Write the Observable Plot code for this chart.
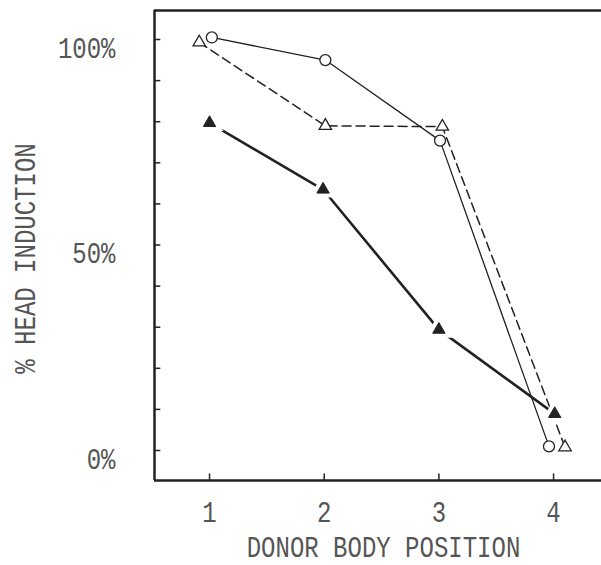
<!DOCTYPE html>
<html>
<head>
<meta charset="utf-8">
<script src="https://cdn.jsdelivr.net/npm/d3@7"></script>
<script src="https://cdn.jsdelivr.net/npm/@observablehq/plot@0.6"></script>
<style>
  html, body { margin: 0; padding: 0; background: #fff; }
</style>
</head>
<body>
<div id="chart"></div>
<script>
// ---- data ----
const xTicks = [1, 2, 3, 4];
const yLabelTicks = [0, 50, 100];
const yTickMarks = [0, 10, 20, 30, 40, 50, 60, 70, 80, 90, 100];

// open circles, thin solid line
const circleX = [1.02, 2.01, 3.01, 3.96];
const circleY = [100.5, 95.0, 75.4, 1.0];
// open triangles, dashed line
const openTriX = [0.91, 2.01, 3.03, 4.10];
const openTriY = [99.3, 79.0, 78.8, 0.8];
// filled triangles, thick solid line
const filledTriX = [1.0, 1.99, 3.0, 4.01];
const filledTriY = [79.7, 63.5, 29.4, 8.9];

const xTitle = "DONOR BODY POSITION";
const yTitle = "% HEAD INDUCTION";

const toRows = (xs, ys) => xs.map((x, i) => ({x, y: ys[i]}));
const circles = toRows(circleX, circleY);
const openTris = toRows(openTriX, openTriY);
const filledTris = toRows(filledTriX, filledTriY);

const xDomain = [0.52, 4.418];
const yDomain = [-7.3, 107.06];
const ink = "#222";
const textInk = "#555";

const chart = Plot.plot({
  width: 601,
  height: 565,
  marginLeft: 154,
  marginRight: 0,
  marginTop: 10,
  marginBottom: 85,
  style: {fontFamily: "'Liberation Mono', 'DejaVu Sans Mono', monospace", fontSize: "24px", background: "#fff", color: textInk},
  x: {domain: xDomain, label: null},
  y: {domain: yDomain, label: null},
  marks: [
    // frame lines
    Plot.ruleX([xDomain[0]], {stroke: ink, strokeWidth: 2.5}),
    Plot.ruleY([yDomain[0]], {stroke: ink, strokeWidth: 2.5}),
    Plot.ruleY([yDomain[1]], {stroke: ink, strokeWidth: 2.5}),
    // inward tick marks
    Plot.ruleY(yTickMarks, {y: d => d, x1: xDomain[0], x2: xDomain[0] + 0.055, stroke: ink, strokeWidth: 1.5}),
    Plot.ruleX(xTicks, {x: d => d, y1: yDomain[0], y2: yDomain[0] + 1.6, stroke: ink, strokeWidth: 1.5}),
    // axis labels
    Plot.axisY(yLabelTicks, {tickSize: 0, tickPadding: 39, dy: 9, tickFormat: d => d + "%", fill: textInk, fontSize: 24, label: null}),
    Plot.axisX(xTicks, {tickSize: 0, tickPadding: 21, tickFormat: d => String(d), fill: textInk, fontSize: 24, label: null}),
    // titles
    Plot.text([xTitle], {frameAnchor: "bottom", textAnchor: "middle", lineAnchor: "middle", dx: 5.5, dy: 67, fill: textInk, fontSize: 24}),
    Plot.text([yTitle], {frameAnchor: "left", textAnchor: "middle", lineAnchor: "middle", rotate: -90, dx: -129, dy: 13, fill: textInk, fontSize: 24}),
    // lines
    Plot.line(circles, {x: "x", y: "y", stroke: ink, strokeWidth: 1.3}),
    Plot.line(openTris, {x: "x", y: "y", stroke: ink, strokeWidth: 1.5, strokeDasharray: "9,5"}),
    Plot.line(filledTris, {x: "x", y: "y", stroke: ink, strokeWidth: 2.6}),
    // white halos around filled triangles
    Plot.dot(filledTris, {x: "x", y: "y", symbol: "triangle", r: 6.5, fill: "#fff", stroke: "#fff", strokeWidth: 6}),
    // markers
    Plot.dot(circles, {x: "x", y: "y", symbol: "circle", r: 5.5, fill: "#fff", stroke: ink, strokeWidth: 1.3}),
    Plot.dot(openTris, {x: "x", y: "y", symbol: "triangle", r: 4.6, fill: "#fff", stroke: ink, strokeWidth: 1.3}),
    Plot.dot(filledTris, {x: "x", y: "y", symbol: "triangle", r: 4.6, fill: ink, stroke: ink, strokeWidth: 1})
  ]
});

// stretch glyphs vertically to mimic the tall, narrow typewriter lettering
chart.querySelectorAll("text").forEach(t => {
  let tr = t.getAttribute("transform");
  if (!tr) {
    const x = parseFloat(t.getAttribute("x")), y = parseFloat(t.getAttribute("y"));
    if (!isNaN(x) && !isNaN(y) && !/em/.test(t.getAttribute("y"))) {
      t.removeAttribute("x"); t.removeAttribute("y");
      tr = `translate(${x},${y})`;
    } else {
      tr = "";
    }
  }
  t.setAttribute("transform", tr + " scale(1,1.2)");
});

document.getElementById("chart").appendChild(chart);
</script>
</body>
</html>
